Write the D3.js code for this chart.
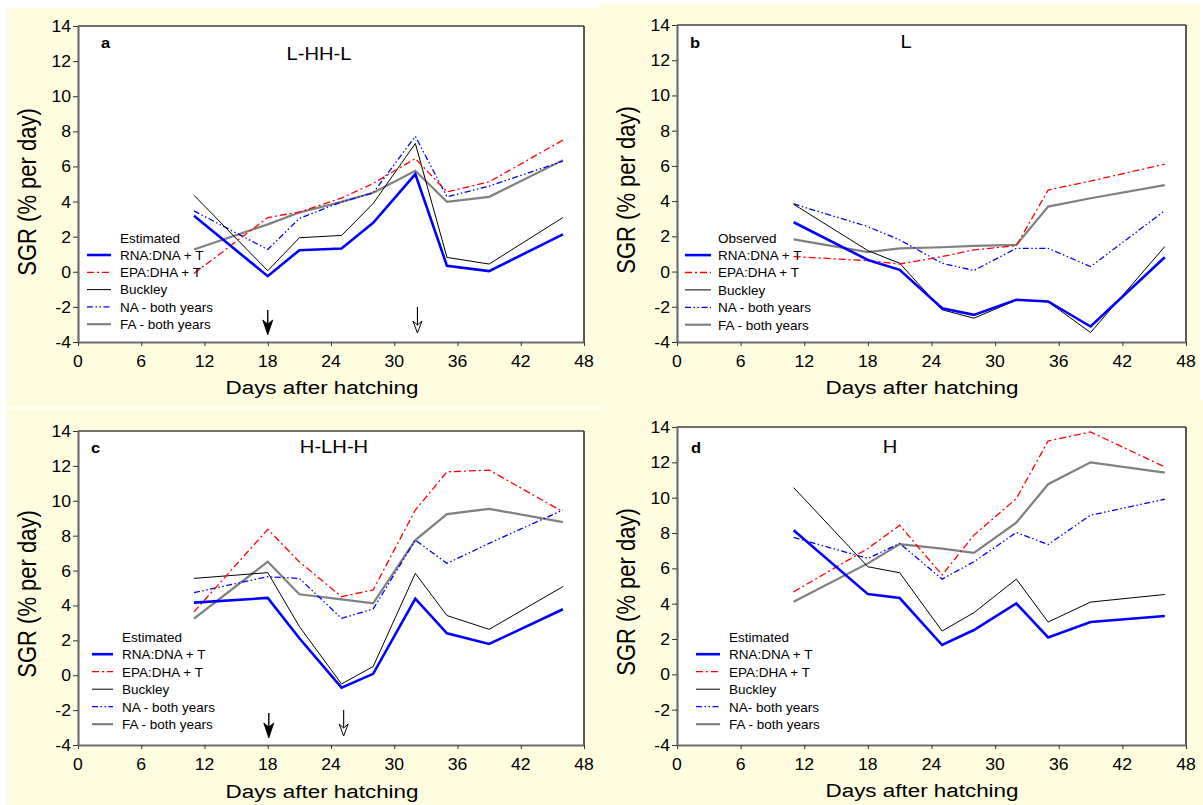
<!DOCTYPE html>
<html>
<head>
<meta charset="utf-8">
<script src="https://cdn.jsdelivr.net/npm/d3@7"></script>
<style>
  html, body { margin: 0; padding: 0; background: #ffffff; }
  svg { display: block; font-family: "Liberation Sans", Arial, sans-serif; }
</style>
</head>
<body>
<svg id="chart" width="1203" height="805"></svg>
<script>
// sampling days (days after hatching)
const days = [11, 18, 21, 25, 28, 32, 35, 39, 46];

// panel a  L-HH-L
const rnaA = [3.19, -0.25, 1.23, 1.33, 2.79, 5.56, 0.34, 0.04, 2.13];
const epaA = [-0.1, 3.09, 3.4, 4.2, 5.03, 6.45, 4.55, 5.12, 7.5];
const buckA = [4.36, 0.06, 1.94, 2.07, 3.89, 7.31, 0.82, 0.44, 3.09];
const naA = [3.47, 1.27, 3.04, 3.98, 4.5, 7.72, 4.27, 4.88, 6.3];
const faA = [1.27, 2.7, 3.38, 3.98, 4.5, 5.75, 3.98, 4.27, 6.36];

// panel b  L
const rnaB = [2.8, 0.66, 0.1, -2.08, -2.46, -1.6, -1.7, -3.12, 0.81];
const epaB = [0.85, 0.62, 0.43, 0.85, 1.23, 1.47, 4.63, 5.14, 6.1];
const buckB = [3.82, 1.19, 0.47, -2.17, -2.65, -1.62, -1.72, -3.46, 1.42];
const naB = [3.84, 2.55, 1.8, 0.47, 0.06, 1.32, 1.32, 0.28, 3.46];
const faB = [1.83, 1.1, 1.32, 1.38, 1.46, 1.51, 3.69, 4.16, 4.91];

// panel c  H-LH-H
const rnaC = [4.16, 4.43, 2.12, -0.71, 0.08, 4.39, 2.4, 1.79, 3.78];
const epaC = [3.63, 8.36, 6.5, 4.5, 4.89, 9.47, 11.66, 11.76, 9.37];
const buckC = [5.55, 5.88, 2.79, -0.5, 0.5, 5.84, 3.42, 2.63, 5.08];
const naC = [4.73, 5.65, 5.55, 3.26, 3.8, 7.75, 6.41, 7.56, 9.47];
const faC = [3.24, 6.51, 4.64, 4.35, 4.12, 7.75, 9.24, 9.54, 8.78];

// panel d  H
const rnaD = [8.16, 4.54, 4.32, 1.66, 2.51, 4.01, 2.09, 2.96, 3.3];
const epaD = [4.67, 7.12, 8.44, 5.62, 7.88, 9.95, 13.21, 13.72, 11.74];
const buckD = [10.57, 6.09, 5.75, 2.45, 3.49, 5.39, 2.96, 4.09, 4.52];
const naD = [7.75, 6.56, 7.41, 5.39, 6.37, 8.03, 7.35, 9.01, 9.91];
const faD = [4.11, 6.28, 7.37, 7.12, 6.88, 8.59, 10.76, 12.0, 11.42];

const xTicks = [0, 6, 12, 18, 24, 30, 36, 42, 48];
const yTicks = [-4, -2, 0, 2, 4, 6, 8, 10, 12, 14];

const legendNames = ['RNA:DNA + T', 'EPA:DHA + T', 'Buckley', 'NA - both years', 'FA - both years'];
const legendNamesD = ['RNA:DNA + T', 'EPA:DHA + T', 'Buckley', 'NA- both years', 'FA - both years'];

// arrows (day of the event, filled or open head)
const arrowsA = [{ day: 18, kind: 'filled' }, { day: 32.2, kind: 'open' }];
const arrowsC = [{ day: 18.1, kind: 'filled' }, { day: 25.2, kind: 'open' }];

const styles = [
    { colour: '#0000ff', width: 2.6, dash: null },
    { colour: '#ff0000', width: 1.3, dash: '7,3,2,3' },
    { colour: '#000000', width: 1, dash: null },
    { colour: '#0000ff', width: 1.3, dash: '6,2.5,1.5,2.5,1.5,2.5' },
    { colour: '#808080', width: 2.2, dash: null },
];

const panels = [
    { letter: 'a', title: 'L-HH-L', header: 'Estimated', names: legendNames, series: [rnaA, epaA, buckA, naA, faA], arrows: arrowsA,
      box: [78, 584, 26, 342], letterPos: [101, 48], titlePos: [319, 60], legend: [87, 111, 120, 237.7, 17.3],
      xTitle: [322, 394], yTitle: [36, 192] },
    { letter: 'b', title: 'L', header: 'Observed', names: legendNames, series: [rnaB, epaB, buckB, naB, faB], arrows: [],
      box: [677, 1186, 25, 342], letterPos: [690, 48], titlePos: [906, 48], legend: [685, 711, 718, 237.7, 17.4],
      xTitle: [922, 394], yTitle: [635, 190] },
    { letter: 'c', title: 'H-LH-H', header: 'Estimated', names: legendNames, series: [rnaC, epaC, buckC, naC, faC], arrows: arrowsC,
      box: [78, 584, 431, 745], letterPos: [91, 453], titlePos: [334, 453], legend: [92, 113, 122, 636.7, 17.5],
      xTitle: [322, 798], yTitle: [36, 594] },
    { letter: 'd', title: 'H', header: 'Estimated', names: legendNamesD, series: [rnaD, epaD, buckD, naD, faD], arrows: [],
      box: [677, 1186, 427, 745], letterPos: [691, 453], titlePos: [890, 453], legend: [696, 720, 729, 636.7, 17.5],
      xTitle: [922, 797], yTitle: [635, 592] },
];

const svg = d3.select('#chart');

// cream page blocks
const cream = '#fffde0';
svg.append('rect').attr('x', 7).attr('y', 8).attr('width', 594).attr('height', 399).attr('fill', cream);
svg.append('rect').attr('x', 600).attr('y', 4).attr('width', 600).attr('height', 400).attr('fill', cream);
svg.append('rect').attr('x', 7).attr('y', 409).attr('width', 594).attr('height', 396).attr('fill', cream);
svg.append('rect').attr('x', 600).attr('y', 400).attr('width', 603).attr('height', 405).attr('fill', cream);

// text with the slight horizontal stretch seen in the source picture
function label(g, x, y, s, size, opts = {}) {
    const sx = opts.sx || 1.15;
    let tr = `translate(${x},${y}) scale(${sx},1)`;
    if (opts.rotate) tr += ' rotate(-90)';
    return g.append('text')
        .attr('transform', tr)
        .attr('font-size', size)
        .attr('font-weight', opts.bold ? 'bold' : 'normal')
        .attr('text-anchor', opts.anchor || 'start')
        .attr('fill', '#000')
        .text(s);
}

panels.forEach((p) => {
    const [left, right, top, bottom] = p.box;
    const x = d3.scaleLinear().domain([0, 48]).range([left, right]);
    const y = d3.scaleLinear().domain([-4, 14]).range([bottom, top]);
    const g = svg.append('g');

    g.append('rect')
        .attr('x', left).attr('y', top)
        .attr('width', right - left).attr('height', bottom - top)
        .attr('fill', '#ffffff');

    const line = d3.line().x((d, i) => x(days[i])).y(d => y(d));

    // grey first, blue estimate on top
    const order = [4, 3, 2, 1, 0];
    order.forEach((k) => {
        const st = styles[k];
        g.append('path')
            .datum(p.series[k])
            .attr('d', line)
            .attr('fill', 'none')
            .attr('stroke', st.colour)
            .attr('stroke-width', st.width)
            .attr('stroke-dasharray', st.dash)
            .attr('stroke-linejoin', 'miter');
    });

    // frame
    g.append('line').attr('x1', left).attr('x2', right).attr('y1', top).attr('y2', top)
        .attr('stroke', '#707070').attr('stroke-width', 2);
    g.append('line').attr('x1', right).attr('x2', right).attr('y1', top).attr('y2', bottom)
        .attr('stroke', '#222').attr('stroke-width', 1.5);

    const xAxis = d3.axisBottom(x).tickValues(xTicks).tickSize(4).tickSizeOuter(0);
    const yAxis = d3.axisLeft(y).tickValues(yTicks).tickSize(5).tickSizeOuter(0);
    const gx = g.append('g').attr('transform', `translate(0,${bottom})`).call(xAxis);
    const gy = g.append('g').attr('transform', `translate(${left},0)`).call(yAxis);
    [gx, gy].forEach((ax) => {
        ax.select('.domain').attr('stroke', '#6e6e6e').attr('stroke-width', 2.2);
        ax.selectAll('.tick line').attr('stroke', '#333').attr('stroke-width', 1);
        ax.selectAll('.tick text').remove();
    });
    xTicks.forEach((t) => label(g, x(t), bottom + 25, String(t), 16, { anchor: 'middle', sx: 1.1 }));
    yTicks.forEach((t) => label(g, left - 7, y(t) + 6, String(t), 16, { anchor: 'end', sx: 1.1 }));

    // titles
    label(g, p.letterPos[0], p.letterPos[1], p.letter, 15, { bold: true, sx: 1.1 });
    label(g, p.titlePos[0], p.titlePos[1], p.title, 18, { anchor: 'middle', sx: 1.12 });
    label(g, p.xTitle[0], p.xTitle[1], 'Days after hatching', 19, { anchor: 'middle', sx: 1.18 });
    label(g, p.yTitle[0], p.yTitle[1], 'SGR (% per day)', 22, { anchor: 'middle', rotate: true, sx: 1.18 });

    // legend
    const [lx1, lx2, tx, ly0, step] = p.legend;
    label(g, tx, ly0 + 4.8, p.header, 13.5, { sx: 1.0 });
    p.names.forEach((n, k) => {
        const st = styles[k];
        const ly = ly0 + step * (k + 1);
        g.append('line')
            .attr('x1', lx1).attr('x2', lx2).attr('y1', ly).attr('y2', ly)
            .attr('stroke', st.colour)
            .attr('stroke-width', st.width)
            .attr('stroke-dasharray', st.dash);
        label(g, tx, ly + 4.8, n, 13.5, { sx: 1.0 });
    });

    // arrows
    p.arrows.forEach((a) => {
        const ax = x(a.day);
        const tip = bottom - 7;
        if (a.kind === 'filled') {
            const headTop = bottom - 22;
            g.append('line').attr('x1', ax).attr('x2', ax).attr('y1', bottom - 32).attr('y2', headTop + 4)
                .attr('stroke', '#000').attr('stroke-width', 1.4);
            g.append('path')
                .attr('d', `M${ax - 5},${headTop} L${ax},${headTop + 4} L${ax + 5},${headTop} L${ax},${tip} Z`)
                .attr('fill', '#000').attr('stroke', '#000').attr('stroke-width', 0.8);
        } else {
            const headTop = bottom - 21;
            g.append('line').attr('x1', ax).attr('x2', ax).attr('y1', bottom - 35).attr('y2', headTop + 4)
                .attr('stroke', '#000').attr('stroke-width', 1.1);
            g.append('path')
                .attr('d', `M${ax - 4.5},${headTop} L${ax},${headTop + 4} L${ax + 4.5},${headTop} L${ax},${tip - 2} Z`)
                .attr('fill', '#fff').attr('stroke', '#000').attr('stroke-width', 1);
        }
    });
});
</script>
</body>
</html>
